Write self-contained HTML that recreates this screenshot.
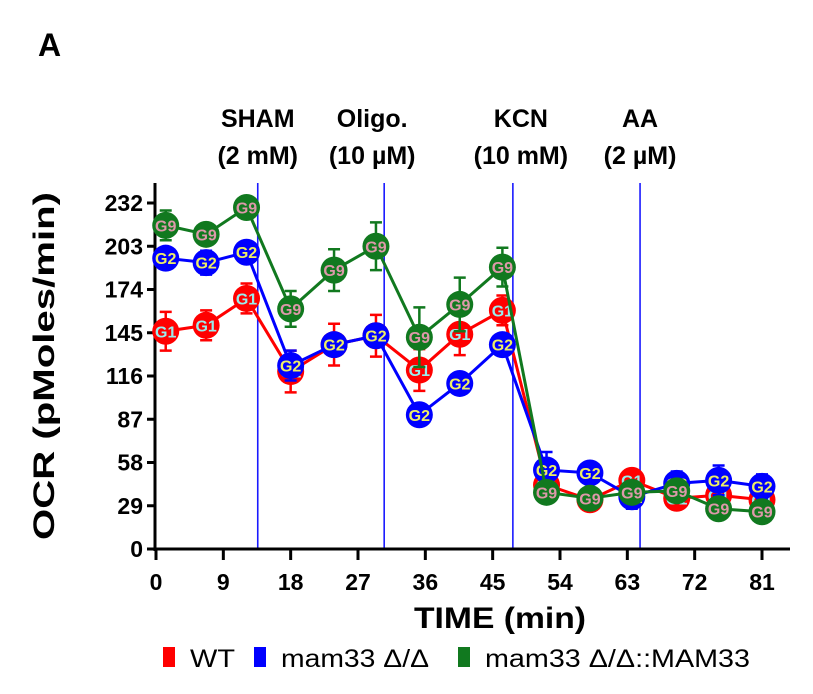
<!DOCTYPE html>
<html><head><meta charset="utf-8"><style>
body{margin:0;background:#fff}
svg{display:block;font-family:"Liberation Sans",sans-serif}
</style></head><body>
<svg id="chart" width="813" height="694">
<text x="38" y="56" font-size="32" font-weight="bold">A</text>
<g id="annot" font-size="25" font-weight="bold" text-anchor="middle"></g>
<g id="vlines"></g>
<g id="axes"></g>
<g id="series"></g>
<text transform="translate(54,366) rotate(-90)" font-size="30" font-weight="bold" text-anchor="middle" textLength="348" lengthAdjust="spacingAndGlyphs">OCR (pMoles/min)</text>
<text x="500" y="628" font-size="30" font-weight="bold" text-anchor="middle" textLength="172" lengthAdjust="spacingAndGlyphs">TIME (min)</text>
<g font-size="25">
<rect x="163" y="647" width="12" height="20" fill="#f00"/>
<text x="190" y="667" textLength="45" lengthAdjust="spacingAndGlyphs">WT</text>
<rect x="254" y="647" width="12" height="20" fill="#00f"/>
<text x="281" y="667" textLength="148" lengthAdjust="spacingAndGlyphs">mam33 Δ/Δ</text>
<rect x="458" y="647" width="12" height="20" fill="#11791f"/>
<text x="485" y="667" textLength="265" lengthAdjust="spacingAndGlyphs">mam33 Δ/Δ::MAM33</text>
</g>
</svg>
<script>
const times=[1.3,6.7,12.1,18,23.8,29.4,35.2,40.6,46.3,52.2,58,63.6,69.6,75.2,81];
const wtValues=[146,150,168,119,137,143,120,144,160,43,33,46,34,36,33];
const wtErr=[13,10,10,14,14,14,14,14,10,8,6,6,6,6,6];
const mamValues=[195,192,199,123,137,143,90,111,137,53,51,35,44,46,42];
const mamErr=[6,8,6,10,6,6,7,6,6,12,6,8,8,10,8];
const rescueValues=[217,211,229,161,187,203,142,164,189,38,34,38,39,27,25];
const rescueErr=[10,6,6,12,14,16,20,18,13,5,5,5,5,5,5];
const yTicks=[0,29,58,87,116,145,174,203,232];
const xTicks=[0,9,18,27,36,45,54,63,72,81];
const injTimes=[13.6,30.5,47.7,64.7];
const injLabels=[["SHAM","(2 mM)"],["Oligo.","(10 µM)"],["KCN","(10 mM)"],["AA","(2 µM)"]];
const NS="http://www.w3.org/2000/svg";
const X=t=>156+t*606/81, Y=v=>549-v*346/232;
function mk(tag,attrs,parent,txt){const e=document.createElementNS(NS,tag);for(const k in attrs)e.setAttribute(k,attrs[k]);if(txt!==undefined)e.textContent=txt;parent.appendChild(e);return e;}
const axes=document.getElementById('axes');
const yAxis=mk('line',{x1:155,y1:183,x2:155,y2:551,stroke:'#000','stroke-width':3},axes);


const xAxis=mk('line',{x1:154,y1:549,x2:790,y2:549,stroke:'#000','stroke-width':3},axes);


yTicks.forEach(v=>{
  mk('line',{x1:147,y1:Y(v),x2:155,y2:Y(v),stroke:'#000','stroke-width':3},axes);
  const t=mk('text',{x:143,y:Y(v)+8,'font-size':23,'font-weight':'bold','text-anchor':'end'},axes,v);
  
  
});
xTicks.forEach(v=>{
  mk('line',{x1:X(v),y1:549,x2:X(v),y2:560,stroke:'#000','stroke-width':3},axes);
  const t=mk('text',{x:X(v),y:590,'font-size':23,'font-weight':'bold','text-anchor':'middle'},axes,v);
  
  
});
const vl=document.getElementById('vlines'),an=document.getElementById('annot');
injTimes.forEach((t,i)=>{
  const l=mk('line',{x1:X(t),y1:183,x2:X(t),y2:549,stroke:'#1a1aff','stroke-width':1.6},vl);
  
  
  const dx=(i==1?-12:i==2?8:0);
  const a=mk('text',{x:X(t)+dx,y:127},an,injLabels[i][0]);
  
  
  mk('text',{x:X(t)+dx,y:164},an,injLabels[i][1]);
});
const sg=document.getElementById('series');
function series(vals,errs,col,tcol,lab,name){
  const g=mk('g',{},sg);
  
  
  mk('polyline',{points:vals.map((v,i)=>X(times[i])+','+Y(v)).join(' '),fill:'none',stroke:col,'stroke-width':3},g);
  vals.forEach((v,i)=>{
    const x=X(times[i]),y1=Y(v+errs[i]),y2=Y(v-errs[i]);
    mk('path',{d:`M${x},${y1}V${y2}M${x-6},${y1}H${x+6}M${x-6},${y2}H${x+6}`,stroke:col,'stroke-width':2.5,fill:'none'},g);
  });
  vals.forEach((v,i)=>{
    const c=mk('circle',{cx:X(times[i]),cy:Y(v),r:13.5,fill:col},g);
    
    
    mk('text',{x:X(times[i]),y:Y(v)+6,'font-size':16,'font-weight':'bold','text-anchor':'middle',fill:tcol},g,lab);
  });
}
series(wtValues,wtErr,'#f00','#9ee','G1','series-wt');
series(mamValues,mamErr,'#00f','#ee6','G2','series-mam33');
series(rescueValues,rescueErr,'#11791f','#d9a','G9','series-mam33-rescue');
</script>
</body></html>
